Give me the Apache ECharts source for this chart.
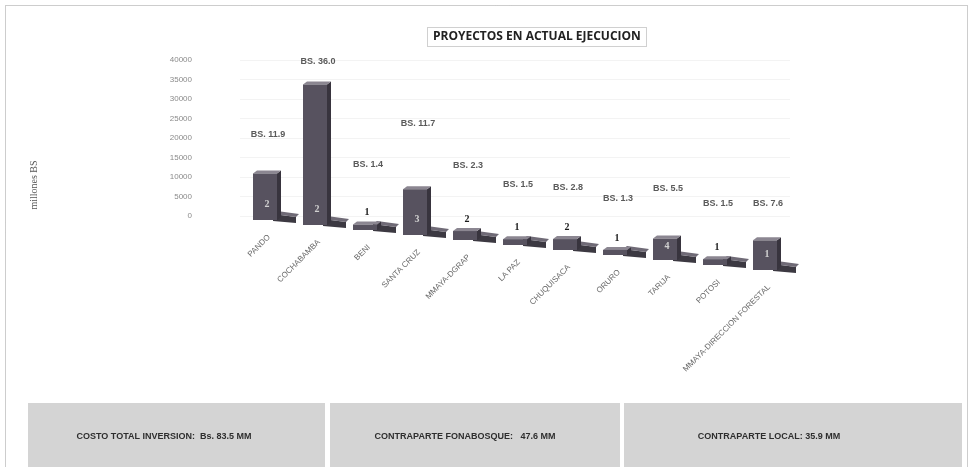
<!DOCTYPE html>
<html>
<head>
<meta charset="utf-8">
<script src="https://cdn.jsdelivr.net/npm/echarts@6/dist/echarts.min.js"></script>
<style>
  html, body { margin: 0; padding: 0; background: #fff; }
  #chart { width: 972px; height: 467px; }
</style>
</head>
<body>
<div id="chart"></div>
<script>
// regiones / unidades ejecutoras
var categories = ['PANDO', 'COCHABAMBA', 'BENI', 'SANTA CRUZ', 'MMAYA-DGRAP', 'LA PAZ',
  'CHUQUISACA', 'ORURO', 'TARIJA', 'POTOSI', 'MMAYA-DIRECCION FORESTAL'];
// inversion (miles de Bs)
var amounts = [11900, 36000, 1400, 11700, 2300, 1500, 2800, 1300, 5500, 1500, 7600];
var amountLabels = ['BS. 11.9', 'BS. 36.0', 'BS. 1.4', 'BS. 11.7', 'BS. 2.3', 'BS. 1.5',
  'BS. 2.8', 'BS. 1.3', 'BS. 5.5', 'BS. 1.5', 'BS. 7.6'];
// numero de proyectos
var counts = [2, 2, 1, 3, 2, 1, 2, 1, 4, 1, 1];
var yTicks = [0, 40000, 5000];

// how far above the bar each Bs label floats (px) - hand placed in the original
var labelLift = [39, 23, 60, 66, 66, 55, 52, 51, 50, 56, 37];
var SLOPE = 0.1; // fake perspective, floor drops to the right

var chart = echarts.init(document.getElementById('chart'));

function renderItem(params, api) {
  var i = api.value(0);
  var amt = api.value(1);
  var cnt = api.value(2);
  var zero = api.coord([i, 0]);
  var first = api.coord([0, 0]);
  var bw = api.size([1, 0])[0] * 0.48;
  var cx = zero[0];
  var base = zero[1] + 4 + SLOPE * (cx - first[0]);
  var h = Math.max(api.size([0, amt])[1], 5);
  var x0 = cx - bw / 2, x1 = cx + bw / 2, top = base - h;
  var d = 4;

  var kids = [];
  // flat box behind (proyectos)
  kids.push({
    type: 'polygon',
    shape: { points: [[x1 - 4, base - 6], [x1 + 19, base - 3], [x1 + 19, base + 3], [x1 - 4, base + 1]] },
    style: { fill: '#3c3942' }
  });
  kids.push({
    type: 'polygon',
    shape: { points: [[x1 - 4, base - 6], [x1, base - 9], [x1 + 22, base - 6], [x1 + 19, base - 3]] },
    style: { fill: '#6f6a76' }
  });
  // front box (monto)
  kids.push({
    type: 'polygon',
    shape: { points: [[x1, top], [x1 + d, top - 3], [x1 + d, base - 3], [x1, base]] },
    style: { fill: '#38343e' }
  });
  kids.push({
    type: 'polygon',
    shape: { points: [[x0, top], [x0 + d, top - 3], [x1 + d, top - 3], [x1, top]] },
    style: { fill: '#8b8691' }
  });
  kids.push({
    type: 'rect',
    shape: { x: x0, y: top, width: bw, height: h },
    style: { fill: '#57525f' }
  });
  // count label
  var inside = h > 15;
  kids.push({
    type: 'text',
    x: cx + 2,
    y: inside ? Math.max(base - 16, top + 8) : top - 12,
    style: {
      text: String(cnt),
      fill: inside ? '#d0d0d0' : '#1a1a1a',
      font: 'bold 10px "Liberation Serif", serif',
      align: 'center', verticalAlign: 'middle'
    }
  });
  // Bs label
  kids.push({
    type: 'text',
    x: cx + 3,
    y: top - labelLift[i],
    style: {
      text: amountLabels[i],
      fill: '#5a5a5a',
      font: 'bold 9px "Liberation Sans Narrow", "Liberation Sans", sans-serif',
      align: 'center', verticalAlign: 'middle'
    }
  });
  // category name
  kids.push({
    type: 'text',
    x: cx + 4,
    y: base + 16,
    rotation: Math.PI / 4,
    style: {
      text: categories[i],
      fill: '#6a6a6a',
      font: '8px "Liberation Sans", sans-serif',
      align: 'right', verticalAlign: 'middle'
    }
  });
  return { type: 'group', children: kids };
}

var seriesData = [];
for (var i = 0; i < categories.length; i++) {
  seriesData.push([i, amounts[i], counts[i]]);
}

var boxes = [
  { x: 28, w: 297, cx: 164, text: 'COSTO TOTAL INVERSION:  Bs. 83.5 MM' },
  { x: 330, w: 290, cx: 465, text: 'CONTRAPARTE FONABOSQUE:   47.6 MM' },
  { x: 624, w: 338, cx: 769, text: 'CONTRAPARTE LOCAL: 35.9 MM' }
];
var graphics = [{
  type: 'rect',
  shape: { x: 5.5, y: 5.5, width: 962, height: 470 },
  style: { fill: 'none', stroke: '#9a9a9a', lineWidth: 1, lineDash: [1, 1] },
  silent: true
}, {
  type: 'text',
  x: 34, y: 185,
  rotation: Math.PI / 2,
  style: {
    text: 'millones BS', fill: '#555',
    font: '10px "Liberation Serif", serif',
    align: 'center', verticalAlign: 'middle'
  }
}];
boxes.forEach(function (b) {
  graphics.push({
    type: 'rect',
    shape: { x: b.x, y: 403, width: b.w, height: 70 },
    style: { fill: '#d4d4d4' }
  });
  graphics.push({
    type: 'text',
    x: b.cx, y: 437,
    style: {
      text: b.text, fill: '#2e2e2e',
      font: 'bold 9px "Liberation Sans Narrow", "Liberation Sans", sans-serif',
      align: 'center', verticalAlign: 'middle'
    }
  });
});

var option = {
  backgroundColor: '#fff',
  animation: false,
  title: {
    text: 'PROYECTOS EN ACTUAL EJECUCION',
    left: 427,
    top: 27,
    padding: [4, 6],
    borderColor: '#a0a0a0',
    borderWidth: 1,
    borderType: 'dotted',
    textStyle: {
      fontFamily: '"Open Sans", sans-serif',
      fontSize: 12,
      fontWeight: 'bold',
      color: '#222'
    }
  },
  grid: { left: 240, right: 182, top: 60, bottom: 251 },
  xAxis: {
    type: 'category',
    data: categories,
    axisLine: { show: false },
    axisTick: { show: false },
    axisLabel: { show: false }
  },
  yAxis: {
    type: 'value',
    min: yTicks[0],
    max: yTicks[1],
    interval: yTicks[2],
    axisLine: { show: false },
    axisTick: { show: false },
    axisLabel: {
      color: '#8a8a8a', fontSize: 8, margin: 48,
      formatter: function (v) { return String(v); }
    },
    splitLine: { lineStyle: { color: '#f3f3f3' } }
  },
  series: [{
    type: 'custom',
    renderItem: renderItem,
    encode: { x: 0, y: 1 },
    data: seriesData,
    clip: false
  }],
  graphic: graphics
};

chart.setOption(option);
</script>
</body>
</html>
